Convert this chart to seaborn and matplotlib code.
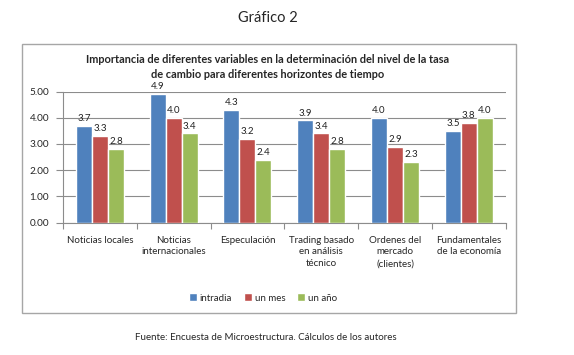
import numpy as np
import pandas as pd
import seaborn as sns
import matplotlib.pyplot as plt
from matplotlib.patches import Rectangle, Patch
from matplotlib.ticker import MultipleLocator, FixedLocator

# data
categories = ['Noticias locales', 'Noticias\ninternacionales', 'Especulación',
              'Trading basado\nen análisis\ntécnico', 'Ordenes del\nmercado\n(clientes)',
              'Fundamentales\nde la economía']
series_names = ['intradia', 'un mes', 'un año']
intradia = [3.7, 4.9, 4.3, 3.9, 4.0, 3.5]
un_mes = [3.3, 4.0, 3.2, 3.4, 2.9, 3.8]
un_anio = [2.8, 3.4, 2.4, 2.8, 2.3, 4.0]
colors = ['#4F81BD', '#C0504D', '#9BBB59']


def main():
    sns.set_style('white')
    plt.rcParams['font.family'] = ['Lato', 'DejaVu Sans']

    df = pd.DataFrame({
        'categoria': categories * 3,
        'serie': np.repeat(series_names, len(categories)),
        'valor': intradia + un_mes + un_anio,
    })

    fig = plt.figure(figsize=(5.74, 3.55), dpi=100)
    ax = fig.add_axes([63 / 574, 1 - 222.5 / 355, (505.7 - 63) / 574, 131 / 355])

    sns.barplot(data=df, x='categoria', y='valor', hue='serie', palette=colors,
                width=0.65, saturation=1, ax=ax, legend=False, zorder=3)

    for cont in ax.containers:
        ax.bar_label(cont, fmt='%.1f', fontsize=7, padding=2, color='#222222')

    ax.set_ylim(0, 5)
    ax.set_xlim(-0.5, len(categories) - 0.5)
    ax.yaxis.set_major_locator(MultipleLocator(1))
    ax.yaxis.set_major_formatter(lambda v, p: f'{v:.2f}')
    ax.grid(axis='y', color='#8C8C8C', linewidth=0.8, zorder=0)
    ax.set_xlabel('')
    ax.set_ylabel('')
    for s in ['top', 'right']:
        ax.spines[s].set_visible(False)
    for s in ['left', 'bottom']:
        ax.spines[s].set_color('#8C8C8C')
        ax.spines[s].set_linewidth(0.8)

    ax.tick_params(axis='y', left=True, length=5, width=0.8, color='#8C8C8C',
                   labelsize=7.2, pad=5)
    ax.tick_params(axis='x', which='major', bottom=False, labelsize=7, pad=6)
    ax.xaxis.set_minor_locator(FixedLocator(np.arange(-0.5, len(categories), 1)))
    ax.tick_params(axis='x', which='minor', bottom=True, length=4, width=0.8,
                   color='#8C8C8C')
    for lab in ax.get_xticklabels():
        lab.set_linespacing(1.4)

    # legend at the bottom of the chart box
    handles = [Patch(facecolor=c, label=n) for c, n in zip(colors, series_names)]
    fig.legend(handles=handles, loc='center', bbox_to_anchor=(263 / 574, 1 - 298 / 355),
               ncol=3, frameon=False, fontsize=7, handlelength=0.8, handleheight=0.8,
               handletextpad=0.3, columnspacing=1.2)

    fig.text(268 / 574, 1 - 67 / 355,
             'Importancia de diferentes variables en la determinación del nivel de la tasa\n'
             'de cambio para diferentes horizontes de tiempo',
             ha='center', va='center', fontsize=7.9, fontweight='bold', linespacing=1.35)
    fig.text(268 / 574, 1 - 18 / 355, 'Gráfico 2', ha='center', va='center', fontsize=10.5)
    fig.text(266 / 574, 1 - 337 / 355,
             'Fuente: Encuesta de Microestructura. Cálculos de los autores',
             ha='center', va='center', fontsize=7)

    # grey frame around the chart
    fig.patches.append(Rectangle((22 / 574, 1 - 313 / 355), (516 - 22) / 574, (313 - 44) / 355,
                                 transform=fig.transFigure, fill=False,
                                 edgecolor='#A6A6A6', linewidth=1))

    fig.savefig('out.png', dpi=100)


if __name__ == '__main__':
    main()
